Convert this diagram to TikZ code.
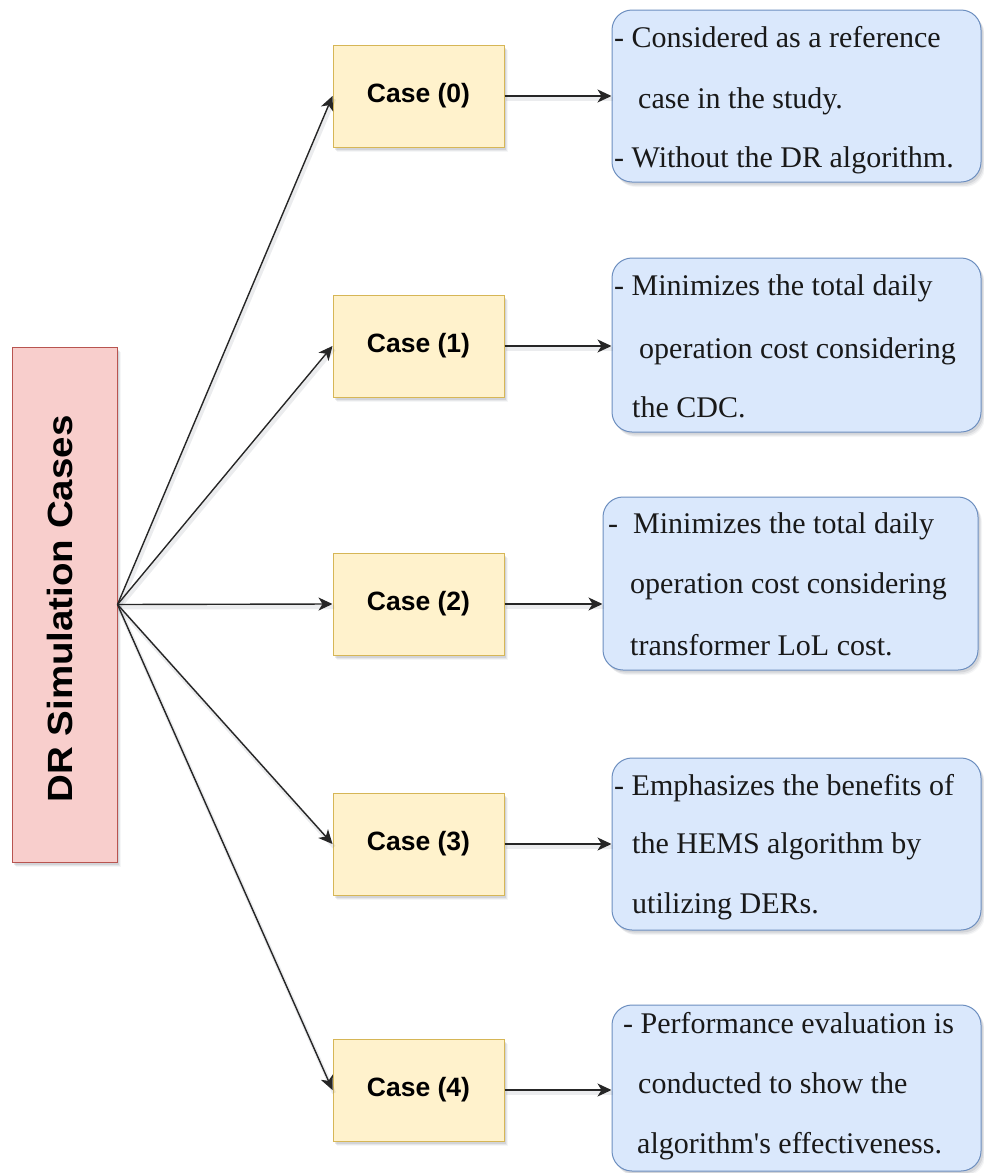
\documentclass[tikz,border=0pt]{standalone}
\usepackage{fontspec}
\setmainfont{Liberation Serif}
\newfontfamily\arialfont{Liberation Sans}
\usetikzlibrary{arrows.meta,shadows}

\definecolor{redfill}{HTML}{F8CECC}
\definecolor{redline}{HTML}{B85450}
\definecolor{yelfill}{HTML}{FFF2CC}
\definecolor{yelline}{HTML}{D6B656}
\definecolor{bluefill}{HTML}{DAE8FC}
\definecolor{blueline}{HTML}{6C8EBF}
\definecolor{shadecol}{HTML}{5A6070}

\tikzset{
  boxshadow/.style={
    drop shadow={shadow xshift=4pt,shadow yshift=-5pt,opacity=0.06,fill=shadecol},
    drop shadow={shadow xshift=3pt,shadow yshift=-4pt,opacity=0.10,fill=shadecol},
    drop shadow={shadow xshift=2pt,shadow yshift=-2.5pt,opacity=0.14,fill=shadecol}},
  rootbox/.style={draw=redline,fill=redfill,line width=1pt,boxshadow,
    minimum width=105pt,minimum height=515pt,inner sep=0pt},
  casebox/.style={draw=yelline,fill=yelfill,line width=1pt,boxshadow,
    minimum width=171pt,minimum height=102pt,inner sep=0pt,
    font=\arialfont\bfseries\fontsize{26.5}{30}\selectfont},
  descbox/.style={draw=blueline,fill=bluefill,line width=1pt,boxshadow,
    rounded corners=20pt,inner sep=0pt},
  txt/.style={anchor=base west,inner sep=0pt,font=\fontsize{30}{36}\selectfont,text=black!90},
  link/.style={draw=black!85,line width=1.4pt,-{Stealth[length=14pt,width=13pt,inset=4pt]},
    preaction={draw=shadecol,draw opacity=0.12,line width=4pt,-,transform canvas={xshift=1.5pt,yshift=-3pt}}}
}

\begin{document}
\begin{tikzpicture}[x=1pt,y=-1pt]
\useasboundingbox (0,0) rectangle (983,1173);

% root box with vertical title
\node[rootbox] (root) at (64.5,604.5) {};
\node[rotate=90,inner sep=0pt,font=\arialfont\bfseries\fontsize{35}{40}\selectfont] (rootlabel) at (60,609)
  {\scalebox{1.1}[1]{DR Simulation Cases}};

% case boxes
\node[casebox] (c0) at (418.5,96) {Case (0)};
\node[casebox] (c1) at (418.5,346) {Case (1)};
\node[casebox] (c2) at (418.5,604) {Case (2)};
\node[casebox] (c3) at (418.5,844) {Case (3)};
\node[casebox] (c4) at (418.5,1090) {Case (4)};

% description boxes
\node[descbox,minimum width=369pt,minimum height=172pt] (d0) at (796.5,96) {};
\node[descbox,minimum width=369pt,minimum height=174pt] (d1) at (796.5,345) {};
\node[descbox,minimum width=375pt,minimum height=173pt] (d2) at (790.5,583.5) {};
\node[descbox,minimum width=369pt,minimum height=172pt] (d3) at (796.5,844) {};
\node[descbox,minimum width=369pt,minimum height=166pt] (d4) at (796.5,1088) {};

% description texts
\node[txt] (d0a) at (614,47)  {- Considered as a reference};
\node[txt] (d0b) at (638,108) {case in the study.};
\node[txt] (d0c) at (614,167) {- Without the DR algorithm.};

\node[txt] (d1a) at (614,295) {- Minimizes the total daily};
\node[txt] (d1b) at (639,358) {operation cost considering};
\node[txt] (d1c) at (632,417) {the CDC.};

\node[txt] (d2a) at (608,533) {-\ \ Minimizes the total daily};
\node[txt] (d2b) at (630,593) {operation cost considering};
\node[txt] (d2c) at (630,655) {transformer LoL cost.};

\node[txt] (d3a) at (614,795) {- Emphasizes the benefits of};
\node[txt] (d3b) at (632,853) {the HEMS algorithm by};
\node[txt] (d3c) at (632,913) {utilizing DERs.};

\node[txt] (d4a) at (623,1033) {- Performance evaluation is};
\node[txt] (d4b) at (638,1093) {conducted to show the};
\node[txt] (d4c) at (637,1153) {algorithm\textquotesingle s effectiveness.};

% fan-out from the root box
\foreach \i in {0,...,4}{
  \draw[link] (root.east) -- (c\i.west);
}

% case to description
\draw[link] (c0.east) -- (c0.east -| d0.west);
\draw[link] (c1.east) -- (c1.east -| d1.west);
\draw[link] (c2.east) -- (c2.east -| d2.west);
\draw[link] (c3.east) -- (c3.east -| d3.west);
\draw[link] (c4.east) -- (c4.east -| d4.west);
\end{tikzpicture}
\end{document}
